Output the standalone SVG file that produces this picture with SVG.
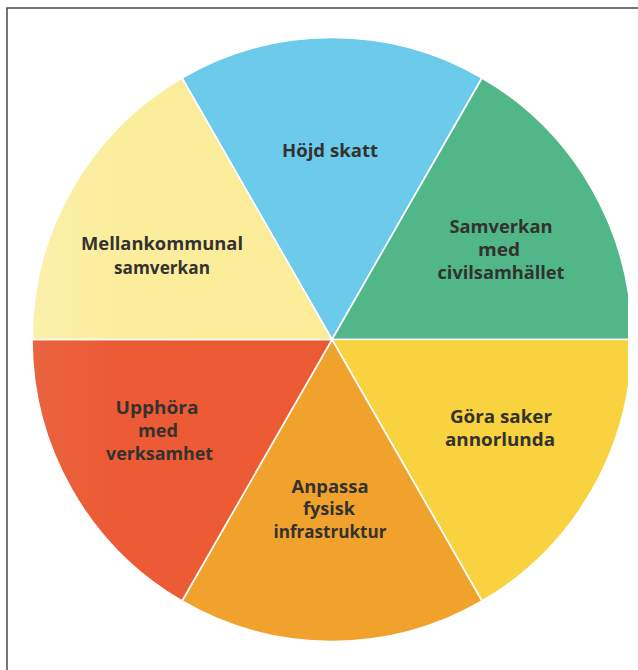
<svg xmlns="http://www.w3.org/2000/svg" width="638" height="670" viewBox="0 0 638 670">
  <defs>
    <clipPath id="clip">
      <rect x="0" y="0" width="628" height="670"/>
    </clipPath>
    <linearGradient id="redGrad" x1="0" y1="0" x2="1" y2="0">
      <stop offset="0" stop-color="#E9643F"/>
      <stop offset="0.25" stop-color="#EC5B35"/>
      <stop offset="1" stop-color="#EC5A34"/>
    </linearGradient>
    <linearGradient id="lyGrad" x1="0" y1="0" x2="1" y2="0">
      <stop offset="0" stop-color="#FBF0AC"/>
      <stop offset="0.3" stop-color="#FBED9C"/>
      <stop offset="1" stop-color="#FBEC98"/>
    </linearGradient>
    <style>
      .sector { stroke: #ffffff; stroke-width: 1.6; stroke-linejoin: round; }
      .lbl { font-family: "Open Sans", "Liberation Sans", sans-serif; font-weight: 700; font-size: 18px; fill: #33322F; text-anchor: middle; }
      .frame { fill: none; stroke: #4a4a4a; stroke-width: 1.5; }
    </style>
  </defs>
  <rect x="0" y="0" width="638" height="670" fill="#ffffff"/>
  <path class="frame" d="M7 670 V8 H638"/>
  <g clip-path="url(#clip)">
    <g id="node-hojd-skatt">
      <path class="sector" fill="#6CCAEA" d="M332 339.5 L482 78 A300 302 0 0 0 182 78 Z"/>
      <text class="lbl" x="330" y="157" textLength="96" lengthAdjust="spacingAndGlyphs">Höjd skatt</text>
    </g>
    <g id="node-samverkan-civil">
      <path class="sector" fill="#52B788" d="M332 339.5 L632 339.5 A300 302 0 0 0 482 78 Z"/>
      <text class="lbl" x="501" y="233" textLength="103" lengthAdjust="spacingAndGlyphs">Samverkan</text>
      <text class="lbl" x="499" y="256" textLength="42" lengthAdjust="spacingAndGlyphs">med</text>
      <text class="lbl" x="501" y="279" textLength="127" lengthAdjust="spacingAndGlyphs">civilsamhället</text>
    </g>
    <g id="node-gora-saker">
      <path class="sector" fill="#F8D23F" d="M332 339.5 L482 601 A300 302 0 0 0 632 339.5 Z"/>
      <text class="lbl" x="501" y="423" textLength="102" lengthAdjust="spacingAndGlyphs">Göra saker</text>
      <text class="lbl" x="500" y="446" textLength="110" lengthAdjust="spacingAndGlyphs">annorlunda</text>
    </g>
    <g id="node-anpassa">
      <path class="sector" fill="#F1A22D" d="M332 339.5 L182 601 A300 302 0 0 0 482 601 Z"/>
      <text class="lbl" x="330" y="493" textLength="77" lengthAdjust="spacingAndGlyphs">Anpassa</text>
      <text class="lbl" x="329" y="515" textLength="52" lengthAdjust="spacingAndGlyphs">fysisk</text>
      <text class="lbl" x="330" y="538" textLength="113" lengthAdjust="spacingAndGlyphs">infrastruktur</text>
    </g>
    <g id="node-upphora">
      <path class="sector" fill="url(#redGrad)" d="M332 339.5 L32 339.5 A300 302 0 0 0 182 601 Z"/>
      <text class="lbl" x="157" y="414" textLength="83" lengthAdjust="spacingAndGlyphs">Upphöra</text>
      <text class="lbl" x="158" y="437" textLength="40" lengthAdjust="spacingAndGlyphs">med</text>
      <text class="lbl" x="159.5" y="460" textLength="107" lengthAdjust="spacingAndGlyphs">verksamhet</text>
    </g>
    <g id="node-mellankommunal">
      <path class="sector" fill="url(#lyGrad)" d="M332 339.5 L182 78 A300 302 0 0 0 32 339.5 Z"/>
      <text class="lbl" x="162" y="250" textLength="162" lengthAdjust="spacingAndGlyphs">Mellankommunal</text>
      <text class="lbl" x="162" y="274" textLength="96" lengthAdjust="spacingAndGlyphs">samverkan</text>
    </g>
  </g>
  <g id="connectors"/>
</svg>
